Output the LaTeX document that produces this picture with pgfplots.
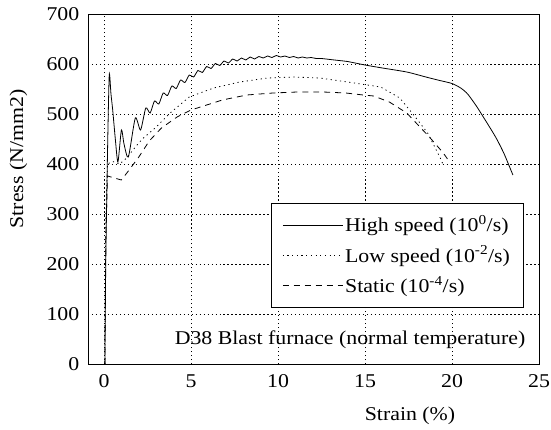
\documentclass[border=0pt]{standalone}
\usepackage{fontspec}
\setmainfont{Liberation Serif}[FakeStretch=1.12]
\usepackage{pgfplots}
\pgfplotsset{compat=1.18}
\begin{document}
\fontsize{19.5bp}{23bp}\selectfont
\begin{tikzpicture}
\useasboundingbox (0,0) rectangle (551bp,430bp);
\begin{axis}[
  at={(88bp,66bp)}, anchor=south west,
  scale only axis, width=451bp, height=350bp,
  xmin=-0.92, xmax=25, ymin=0, ymax=700,
  xtick={0,5,10,15,20,25}, ytick={0,100,...,700},
  major tick length=0pt,
  grid=major,
  major grid style={black, line width=0.9pt, dash pattern=on 1.2pt off 2.8pt},
  axis line style={black, line width=0.6pt},
  /pgf/number format/assume math mode=true,
  tick label style={font=\fontsize{19.5bp}{23bp}\selectfont},
  xticklabel style={yshift=-4bp},
  yticklabel style={xshift=-2bp},
  xlabel={Strain (\%)},
  ylabel={Stress (N/mm2)},
  label style={font=\fontsize{19.5bp}{23bp}\selectfont},
  xlabel style={at={(rel axis cs:0.714,0)}, anchor=north, yshift=-36bp},
  ylabel style={at={(rel axis cs:0,0.586)}, anchor=south, yshift=54bp},
  legend style={at={(rel axis cs:0.406,0.46)}, anchor=north west,
    draw=black, line width=0.5pt, fill=white,
    font=\fontsize{19.5bp}{23bp}\selectfont,
    inner xsep=11bp, inner ysep=10bp, row sep=7bp,
    /tikz/every even column/.append style={column sep=0bp}},
  legend cell align=left,
  legend image code/.code={\draw[#1] (0bp,0bp) -- (60bp,0bp);},
  legend image post style={xshift=-3bp},
]
\addplot[black, line width=0.8pt, smooth, tension=0.4] coordinates {
(0.05,0) (0.1,200) (0.2,420) (0.3,578) (0.4,540) (0.5,508) (0.65,450) (0.8,404)
(1.0,468) (1.15,440) (1.4,414) (1.8,492) (2.1,468) (2.4,512) (2.65,502)
(2.9,526) (3.15,520) (3.4,542) (3.65,537) (3.9,556) (4.15,551) (4.4,568)
(4.65,563) (4.9,578) (5.15,574) (5.4,587) (5.65,583) (5.9,595) (6.15,591)
(6.4,601) (6.65,597) (6.9,606) (7.15,602) (7.4,610) (7.65,606) (7.9,612)
(8.15,608) (8.4,614) (8.65,610) (8.9,615) (9.15,612) (9.4,616) (9.65,613)
(9.9,617) (10.15,614) (10.4,616) (10.65,613) (10.9,615) (11.15,612) (11.4,614)
(11.65,612) (11.9,613) (12.2,611) (12.5,611) (13,609) (13.5,607) (14,605)
(15,598) (16,592) (17.4,584) (18.5,574) (19.3,567) (20,561) (20.5,552)
(20.9,540) (21.4,516) (21.8,494) (22.3,466) (22.6,448) (23.0,420) (23.5,378)
};
\addlegendentry{High speed (10\textsuperscript{0}/s)}
\addplot[black, line width=0.8pt, dash pattern=on 1.2pt off 3.5pt] coordinates {
(0.05,0) (0.1,300) (0.2,400) (0.5,405) (0.9,400) (1.3,412) (1.85,436)
(2.2,450) (3.0,474) (3.8,502) (4.9,534) (6.3,552) (7.8,564) (9.4,572)
(10.9,574) (12.4,572) (14.0,564) (15.9,554) (17.0,532) (17.8,498)
(18.6,462) (19.3,414) (19.5,398)
};
\addlegendentry{Low speed (10\textsuperscript{-2}/s)}
\addplot[black, line width=0.8pt, dash pattern=on 6pt off 5pt] coordinates {
(0.05,0) (0.1,250) (0.2,376) (0.6,372) (1.0,368) (1.4,386) (2.0,414)
(2.6,446) (3.3,472) (4.2,494) (5.0,508) (5.9,518) (6.8,528) (8.2,538)
(9.7,542) (11.1,544) (12.6,544) (13.9,542) (14.9,538) (15.5,536)
(16.4,524) (17.4,502) (18.7,454) (19.5,422) (19.9,402)
};
\addlegendentry{Static (10\textsuperscript{-4}/s)}
\node[anchor=east, font=\fontsize{19.5bp}{23bp}\selectfont, inner sep=0pt]
  at (rel axis cs:0.97,0.069) {D38 Blast furnace (normal temperature)};
\end{axis}
\end{tikzpicture}
\end{document}
